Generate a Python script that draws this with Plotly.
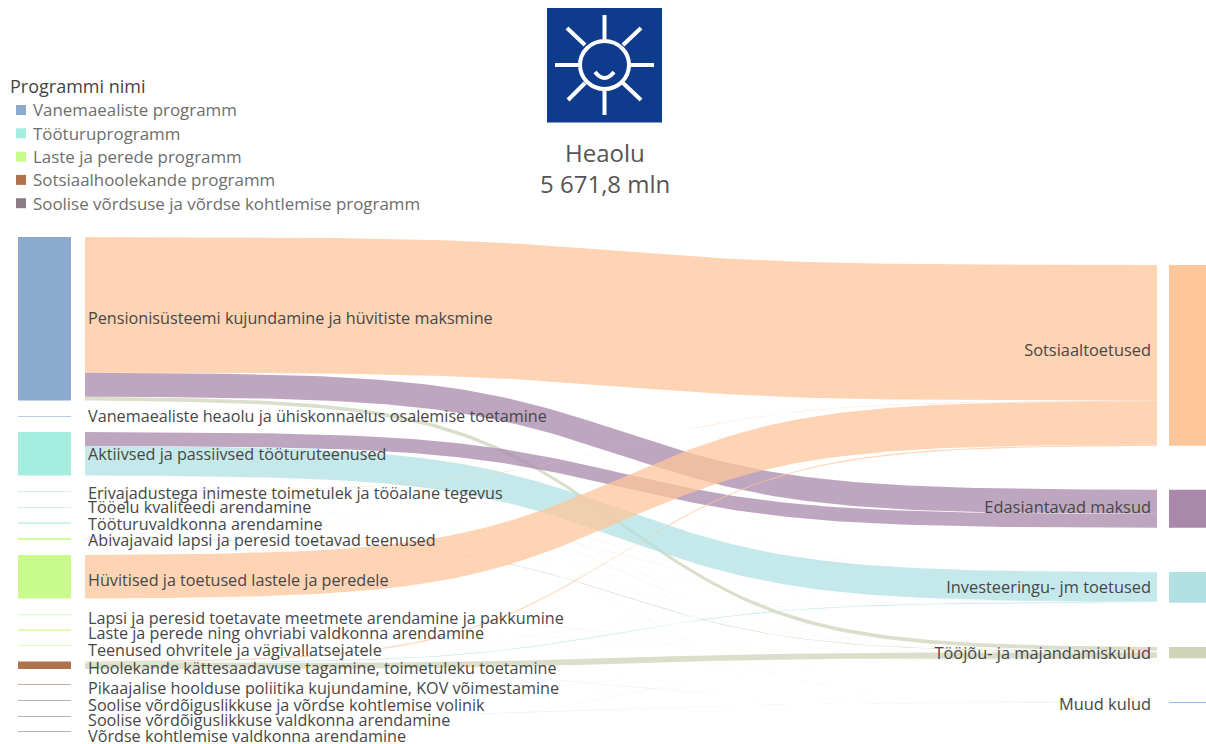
#!/usr/bin/env python3
"""
Heaolu budget sankey: programme activities flowing to cost types
"""

import numpy as np
import plotly.graph_objects as go

# left column, in drawing order
activities = [
    "Pensionisüsteemi kujundamine ja hüvitiste maksmine",
    "Vanemaealiste heaolu ja ühiskonnaelus osalemise toetamine",
    "Aktiivsed ja passiivsed tööturuteenused",
    "Erivajadustega inimeste toimetulek ja tööalane tegevus",
    "Tööelu kvaliteedi arendamine",
    "Tööturuvaldkonna arendamine",
    "Abivajavaid lapsi ja peresid toetavad teenused",
    "Hüvitised ja toetused lastele ja peredele",
    "Lapsi ja peresid toetavate meetmete arendamine ja pakkumine",
    "Laste ja perede ning ohvriabi valdkonna arendamine",
    "Teenused ohvritele ja vägivallatsejatele",
    "Hoolekande kättesaadavuse tagamine, toimetuleku toetamine",
    "Pikaajalise hoolduse poliitika kujundamine, KOV võimestamine",
    "Soolise võrdõiguslikkuse ja võrdse kohtlemise volinik",
    "Soolise võrdõiguslikkuse valdkonna arendamine",
    "Võrdse kohtlemise valdkonna arendamine",
]
activity_program = [0, 0, 1, 1, 1, 1, 2, 2, 2, 2, 2, 3, 3, 4, 4, 4]

programs = [
    "Vanemaealiste programm",
    "Tööturuprogramm",
    "Laste ja perede programm",
    "Sotsiaalhoolekande programm",
    "Soolise võrdsuse ja võrdse kohtlemise programm",
]
program_colors = ["#8CA9CE", "#A5EEDF", "#C8FB8B", "#B0724C", "#8C7B85"]

cost_types = [
    "Sotsiaaltoetused",
    "Edasiantavad maksud",
    "Investeeringu- jm toetused",
    "Tööjõu- ja majandamiskulud",
    "Muud kulud",
]
cost_colors = ["#FDC69B", "#A988AB", "#B2E1E3", "#CFD3B8", "#8ABCEB"]

# one value (mln) per activity/cost pair
link_activity = [0, 0, 0, 0, 1, 1, 2, 2, 2, 3, 3, 3, 4, 4, 4, 5, 5, 5, 6, 6, 7, 8, 8, 9, 9, 10, 10,
                 11, 11, 11, 11, 12, 12, 13, 14, 14, 15]
link_cost = [0, 1, 2, 3, 2, 3, 1, 2, 3, 0, 2, 3, 2, 3, 4, 2, 3, 4, 2, 3, 0, 2, 3, 2, 3, 2, 3,
             0, 2, 3, 4, 2, 3, 3, 3, 4, 3]
link_value = [2944.8, 521, 3, 80, 2, 3, 304, 638, 4, 6, 1, 2, 1, 3, 0.5, 1, 3, 0.5, 1, 12, 945, 2, 3, 1, 2, 1, 3,
              24, 15, 125, 1, 1, 3, 1, 1, 0.5, 1]

title_lines = ["Heaolu", "5 671,8 mln"]
legend_title = "Programmi nimi"

# layout constants, pixels of the 1206x744 page
WIDTH, HEIGHT = 1206, 744
MLN_PER_PX = 21.7
LEFT_TOP, RIGHT_TOP = 237, 265
LEFT_GAP, RIGHT_GAP = 15.6, 44.2
RIBBON_X0, RIBBON_X1 = 85, 1157
LABEL_FONT = "Open Sans"

# text sits a little off the centre of its bar in the original
activity_nudge = [1, 2, 2, 4, 2, 3, 3, 5, 6, 5, 6, 5, 5, 6, 6, 6]
cost_nudge = [-3, 0, 1, 2, 3]


def stack_nodes(totals, top_px, gap_px):
    """Tops of stacked nodes, in mln along the y axis"""
    tops, pos = [], top_px * MLN_PER_PX
    for total in totals:
        tops.append(pos)
        pos += total + gap_px * MLN_PER_PX
    return tops


def sum_by(keys, n):
    totals = [0.0] * n
    for key, value in zip(keys, link_value):
        totals[key] += value
    return totals


def ribbon_trace(y0, y1, value, color, name):
    """Filled sigmoid band between the two columns"""
    t = np.linspace(0, 1, 160)
    ease = 1 / (1 + np.exp(-12 * (t - 0.5)))
    ease = (ease - ease[0]) / (ease[-1] - ease[0])
    x = RIBBON_X0 + (RIBBON_X1 - RIBBON_X0) * t
    upper = y0 + (y1 - y0) * ease
    return go.Scatter(
        x=np.concatenate([x, x[::-1]]),
        y=np.concatenate([upper, (upper + value)[::-1]]),
        mode='lines',
        fill='toself',
        fillcolor=color,
        line=dict(width=0),
        hoverinfo='text',
        hoveron='fills',
        text=name,
        showlegend=False,
    )


def rgba(hex_color, alpha):
    r, g, b = (int(hex_color[i:i + 2], 16) for i in (1, 3, 5))
    return f"rgba({r},{g},{b},{alpha})"


def thin_bar_opacity(total):
    """Small bars read paler in the original"""
    if total > 60:
        return 1
    return 0.85 if total > 10 else 0.6


def px_x(x):
    return x / WIDTH


def px_y(y):
    return 1 - y / HEIGHT


activity_totals = sum_by(link_activity, len(activities))
cost_totals = sum_by(link_cost, len(cost_types))
activity_tops = stack_nodes(activity_totals, LEFT_TOP, LEFT_GAP)
cost_tops = stack_nodes(cost_totals, RIGHT_TOP, RIGHT_GAP)

fig = go.Figure()

# ribbons: stacked by cost order on the left, by activity order on the right
left_pos = list(activity_tops)
right_pos = list(cost_tops)
order = sorted(range(len(link_value)), key=lambda i: (link_activity[i], link_cost[i]))
link_y0 = {}
for i in order:
    link_y0[i] = left_pos[link_activity[i]]
    left_pos[link_activity[i]] += link_value[i]
for i in order:
    a, c = link_activity[i], link_cost[i]
    # hairline ribbons come out too strong in the browser, soften them
    alpha = 0.75 if link_value[i] >= 5 else 0.25
    fig.add_trace(ribbon_trace(link_y0[i], right_pos[c], link_value[i], rgba(cost_colors[c], alpha),
                               f"{activities[a]} → {cost_types[c]}: {link_value[i]:.0f} mln"))
    right_pos[c] += link_value[i]

# left bars, one trace per programme
for p, name in enumerate(programs):
    rows = [a for a in range(len(activities)) if activity_program[a] == p]
    fig.add_trace(go.Bar(
        x=[44.5] * len(rows),
        y=[activity_totals[a] for a in rows],
        base=[activity_tops[a] for a in rows],
        width=53,
        name=name,
        marker=dict(color=program_colors[p], line=dict(width=0),
                    opacity=[thin_bar_opacity(activity_totals[a]) for a in rows]),
        hovertext=[activities[a] for a in rows],
        hoverinfo='text',
        showlegend=False,
    ))

# right bars run off the page edge
fig.add_trace(go.Bar(
    x=[1199] * len(cost_types),
    y=cost_totals,
    base=cost_tops,
    width=60,
    marker=dict(color=cost_colors, line=dict(width=0)),
    hovertext=cost_types,
    hoverinfo='text',
    showlegend=False,
))

# node labels
fig.add_trace(go.Scatter(
    x=[88] * len(activities),
    y=[t + v / 2 + n * MLN_PER_PX for t, v, n in zip(activity_tops, activity_totals, activity_nudge)],
    mode='text',
    text=activities,
    textposition='middle right',
    textfont=dict(family=LABEL_FONT, size=16.2, color='#474747'),
    hoverinfo='skip',
    showlegend=False,
))
fig.add_trace(go.Scatter(
    x=[1151] * len(cost_types),
    y=[t + v / 2 + n * MLN_PER_PX for t, v, n in zip(cost_tops, cost_totals, cost_nudge)],
    mode='text',
    text=cost_types,
    textposition='middle left',
    textfont=dict(family=LABEL_FONT, size=16.4, color='#474747'),
    hoverinfo='skip',
    showlegend=False,
))

# hand-placed legend
annotations = [dict(x=px_x(8), y=px_y(86), xref='paper', yref='paper', text=legend_title, showarrow=False,
                    xanchor='left', yanchor='middle', font=dict(family=LABEL_FONT, size=18, color='#444444'))]
shapes = []
for p, name in enumerate(programs):
    cy = 110 + 23.3 * p
    annotations.append(dict(x=px_x(31), y=px_y(cy), xref='paper', yref='paper', text=name, showarrow=False,
                            xanchor='left', yanchor='middle',
                            font=dict(family=LABEL_FONT, size=16.9, color='#6E6E6E')))
    shapes.append(dict(type='rect', xref='paper', yref='paper', line=dict(width=0),
                       x0=px_x(16), x1=px_x(26), y0=px_y(cy - 5), y1=px_y(cy + 5),
                       fillcolor=program_colors[p]))

# headline under the icon
for text, cy in zip(title_lines, [152, 183]):
    annotations.append(dict(x=px_x(604.5), y=px_y(cy), xref='paper', yref='paper', text=text, showarrow=False,
                            xanchor='center', yanchor='middle',
                            font=dict(family=LABEL_FONT, size=24, color='#555555')))

# sun icon
ICON_BLUE = "#0F3B8C"
shapes.append(dict(type='rect', xref='paper', yref='paper', line=dict(width=0), fillcolor=ICON_BLUE,
                   x0=px_x(547), x1=px_x(662), y0=px_y(8), y1=px_y(122.5)))
sun_line = dict(color='white', width=4)
rays = [(555, 65, 579, 65), (631, 65, 654, 65), (604.5, 15, 604.5, 39), (604.5, 91, 604.5, 115),
        (567, 28, 585, 45), (641, 28, 623, 45), (568, 100, 585, 83), (641, 100, 623, 83)]
for x0, y0, x1, y1 in rays:
    shapes.append(dict(type='line', xref='paper', yref='paper', line=sun_line,
                       x0=px_x(x0), y0=px_y(y0), x1=px_x(x1), y1=px_y(y1)))
shapes.append(dict(type='circle', xref='paper', yref='paper', line=sun_line,
                   x0=px_x(580), x1=px_x(629), y0=px_y(41), y1=px_y(89)))
shapes.append(dict(type='path', xref='paper', yref='paper', line=sun_line,
                   path=f"M {px_x(595)} {px_y(72)} Q {px_x(604.5)} {px_y(84)} {px_x(614)} {px_y(72)}"))

fig.update_layout(
    width=WIDTH,
    height=HEIGHT,
    margin=dict(l=0, r=0, t=0, b=0),
    barmode='overlay',
    hovermode='closest',
    plot_bgcolor='white',
    paper_bgcolor='white',
    xaxis=dict(range=[0, WIDTH], visible=False, fixedrange=True),
    yaxis=dict(range=[HEIGHT * MLN_PER_PX, 0], visible=False, fixedrange=True),
    annotations=annotations,
    shapes=shapes,
)

# the page's default body margin would push the chart off by 8px
fig.write_html("out.html", config={'displayModeBar': False},
               post_script="document.body.style.margin = '0';")
